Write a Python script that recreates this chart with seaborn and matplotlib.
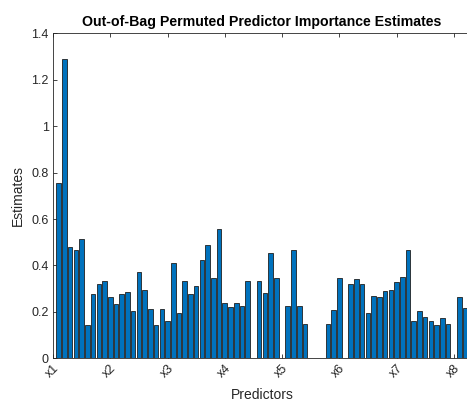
import numpy as np
import pandas as pd
import matplotlib
matplotlib.use("Agg")
import matplotlib.pyplot as plt
import seaborn as sns

# ---- data ----
positions = list(range(1, 73))
estimates = [
    0.755, 1.290, 0.479, 0.468, 0.513, 0.143, 0.276, 0.319, 0.333, 0.262,   # 1-10
    0.236, 0.279, 0.285, 0.204, 0.372, 0.296, 0.212, 0.142, 0.212, 0.161,   # 11-20
    0.412, 0.193, 0.332, 0.279, 0.313, 0.422, 0.486, 0.346, 0.559, 0.239,   # 21-30
    0.221, 0.239, 0.227, 0.332, None, 0.332, 0.283, 0.453, 0.345, None,     # 31-40
    0.227, 0.465, 0.227, 0.146, None, None, None, 0.147, 0.210, 0.348,      # 41-50
    None, 0.322, 0.340, 0.319, 0.196, 0.270, 0.262, 0.290, 0.293, 0.329,    # 51-60
    0.350, 0.465, 0.161, 0.203, 0.179, 0.160, 0.143, 0.173, 0.147, None,    # 61-70
    0.262, 0.215,                                                           # 71-72
]
tick_positions = [0, 10, 20, 30, 40, 50, 60, 70]
tick_labels = ["x1", "x2", "x3", "x4", "x5", "x6", "x7", "x8"]
ytick_values = [0, 0.2, 0.4, 0.6, 0.8, 1.0, 1.2, 1.4]
ytick_labels = ["0", "0.2", "0.4", "0.6", "0.8", "1", "1.2", "1.4"]

df = pd.DataFrame({"pos": positions, "est": estimates}).dropna()

# ---- style ----
sns.set_style("ticks")
plt.rcParams["font.family"] = ["Liberation Sans", "DejaVu Sans"]
plt.rcParams["xtick.direction"] = "in"
plt.rcParams["ytick.direction"] = "in"

W, H = 467, 403
fig = plt.figure(figsize=(W / 100, H / 100), dpi=100)
fig.patch.set_facecolor("white")

left_px, right_px = 53, 471
top_px, bottom_px = 33.3, 358.3
ax = fig.add_axes([left_px / W, (H - bottom_px) / H,
                   (right_px - left_px) / W, (bottom_px - top_px) / H])

sns.barplot(data=df, x="pos", y="est", native_scale=True, errorbar=None,
            color="#0072BD", saturation=1, width=0.8,
            edgecolor="#1f1f1f", linewidth=0.6, ax=ax)

ax.set_xlim(0, 73)
ax.set_ylim(0, 1.4)
ax.set_xticks(tick_positions)
ax.set_xticklabels(tick_labels, rotation=45, ha="right", rotation_mode="anchor",
                   fontsize=9, color="#262626")
ax.set_yticks(ytick_values)
ax.set_yticklabels(ytick_labels, fontsize=9, color="#262626")

ax.tick_params(axis="both", which="both", direction="in", length=3,
               width=0.6, color="#262626", top=True, right=True, pad=3)
for s in ax.spines.values():
    s.set_visible(True)
    s.set_color("#262626")
    s.set_linewidth(0.6)

ax.set_xlabel("Predictors", fontsize=10, color="#262626", labelpad=5.5)
ax.set_ylabel("Estimates", fontsize=10, color="#262626", labelpad=5)
ax.set_title("Out-of-Bag Permuted Predictor Importance Estimates",
             fontsize=10.2, fontweight="bold", color="black", pad=5)

fig.savefig("out.png", dpi=100)
